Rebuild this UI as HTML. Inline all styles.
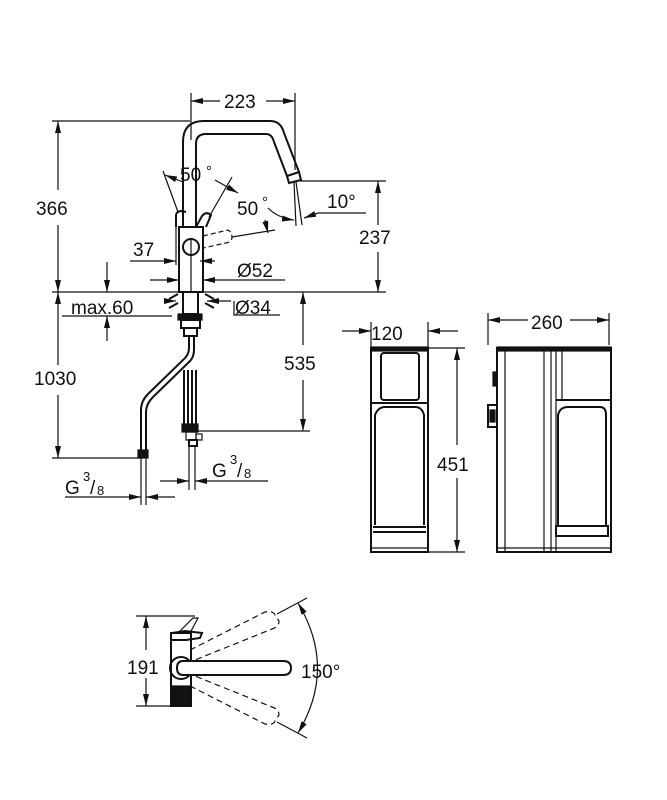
<!DOCTYPE html>
<html><head><meta charset="utf-8"><style>
html,body{margin:0;padding:0;background:#fff;}
svg{display:block}
text{font-family:"Liberation Sans",sans-serif;fill:#111;}
</style></head><body>
<svg width="667" height="800" viewBox="0 0 667 800" xmlns="http://www.w3.org/2000/svg">
<defs>
<marker id="a" viewBox="0 0 12 6" refX="12" refY="3" markerWidth="12" markerHeight="6" orient="auto-start-reverse" markerUnits="userSpaceOnUse">
<path d="M0,0 L12,3 L0,6 z" fill="#111"/></marker>
</defs>
<g stroke="#111" stroke-width="1.2" fill="none">
<line x1="191" y1="93" x2="191" y2="140"/><line x1="295" y1="93" x2="295" y2="170"/>
<line x1="191" y1="101" x2="220" y2="101" marker-start="url(#a)"/><line x1="266" y1="101" x2="295" y2="101" marker-end="url(#a)"/>
<line x1="52" y1="121" x2="190" y2="121"/>
<line x1="58" y1="121" x2="58" y2="190" marker-start="url(#a)"/><line x1="58" y1="225" x2="58" y2="292" marker-end="url(#a)"/>
<line x1="52" y1="292" x2="386" y2="292"/>
<line x1="300" y1="181" x2="386" y2="181"/>
<line x1="378" y1="181" x2="378" y2="225" marker-start="url(#a)"/><line x1="378" y1="252" x2="378" y2="292" marker-end="url(#a)"/>
<path d="M183,227 L183,142 Q183,121 204,121 L270,121 Q281,121 284,133 L299,172" stroke-width="2"/>
<path d="M196,227 L196,144 Q196,134 206,134 L266,134 Q272,134 274,142 L287,176" stroke-width="2"/>
<path d="M287,176 L299,172 L301,180 L289,183 z" stroke-width="2"/>
<line x1="294" y1="182" x2="296" y2="226"/><line x1="296" y1="182" x2="302" y2="225"/>
<path d="M268,208 Q278,218 294,220" marker-end="url(#a)"/>
<line x1="366" y1="213" x2="318" y2="213"/><line x1="318" y1="213" x2="304" y2="218" marker-end="url(#a)"/>
<rect x="179" y="227" width="24" height="65" stroke-width="2"/>
<circle cx="191" cy="247" r="8" stroke-width="2"/>
<line x1="191" y1="240" x2="191" y2="292"/>
<path d="M176,227 L176,216 Q176,211 182,211 L186,212" stroke-width="2"/>
<path d="M196,227 L202,216 Q206,211 211,215 L206,227" stroke-width="2"/>
<line x1="163" y1="171" x2="178" y2="212"/><line x1="232" y1="177" x2="209" y2="217"/>
<line x1="183" y1="182" x2="165" y2="175" marker-end="url(#a)"/>
<line x1="215" y1="180" x2="238" y2="193" marker-end="url(#a)"/>
<path d="M203,236 L228,230 Q232,232 232,238 Q231,242 226,243 L203,248" stroke-dasharray="5,3"/>
<line x1="232" y1="237" x2="275" y2="230"/>
<line x1="265" y1="220" x2="268" y2="233" marker-end="url(#a)"/>
<line x1="130" y1="261" x2="170" y2="261"/><line x1="170" y1="261" x2="176" y2="261" marker-end="url(#a)"/>
<line x1="176" y1="222" x2="176" y2="265"/>
<line x1="215" y1="261" x2="200" y2="261" marker-end="url(#a)"/>
<line x1="150" y1="280" x2="179" y2="280" marker-end="url(#a)"/>
<line x1="285" y1="280" x2="203" y2="280" marker-end="url(#a)"/>
<line x1="107" y1="262" x2="107" y2="292" marker-end="url(#a)"/>
<line x1="107" y1="341" x2="107" y2="316" marker-end="url(#a)"/>
<line x1="62" y1="316" x2="172" y2="316"/>
<rect x="183" y="292" width="15" height="22" stroke-width="2"/>
<line x1="165" y1="301" x2="176" y2="301" marker-end="url(#a)"/>
<path d="M169,299 L178,294 M169,308 L178,303 M205,294 L214,299 M205,303 L214,308" stroke-width="2"/>
<line x1="231" y1="301" x2="207" y2="301" marker-end="url(#a)"/>
<path d="M234,301 L234,315 L280,315"/>
<rect x="178" y="314" width="24" height="6" fill="#111"/>
<rect x="181" y="320" width="19" height="8" stroke-width="2"/>
<rect x="184" y="328" width="13" height="8" stroke-width="2"/>
<path d="M189,336 L189,348 Q189,355 183,360 L148,394 Q141,401 141,410 L141,452" stroke-width="2"/>
<path d="M194,336 L194,350 Q194,358 188,363 L153,397 Q146,404 146,412 L146,452" stroke-width="2"/>
<rect x="138" y="450" width="10" height="8" fill="#111"/>
<line x1="141" y1="458" x2="141" y2="505"/><line x1="146" y1="458" x2="146" y2="505"/>
<line x1="184" y1="370" x2="184" y2="425" stroke-width="2"/><line x1="188" y1="370" x2="188" y2="425" stroke-width="2"/>
<line x1="192" y1="370" x2="192" y2="425" stroke-width="2"/><line x1="196" y1="370" x2="196" y2="425" stroke-width="2"/>
<rect x="182" y="424" width="16" height="8" fill="#111"/>
<rect x="186" y="432" width="10" height="8"/><rect x="196" y="434" width="6" height="6"/>
<rect x="189" y="440" width="8" height="6" stroke-width="2"/>
<line x1="189" y1="446" x2="189" y2="490"/><line x1="195" y1="446" x2="195" y2="490"/>
<line x1="195" y1="431" x2="310" y2="431"/>
<line x1="303" y1="292" x2="303" y2="345" marker-start="url(#a)"/><line x1="303" y1="380" x2="303" y2="431" marker-end="url(#a)"/>
<line x1="52" y1="458" x2="140" y2="458"/>
<line x1="58" y1="292" x2="58" y2="365" marker-start="url(#a)"/><line x1="58" y1="395" x2="58" y2="458" marker-end="url(#a)"/>
<line x1="65" y1="497" x2="141" y2="497" marker-end="url(#a)"/><line x1="175" y1="497" x2="146" y2="497" marker-end="url(#a)"/>
<line x1="160" y1="481" x2="189" y2="481" marker-end="url(#a)"/><line x1="268" y1="481" x2="195" y2="481" marker-end="url(#a)"/>

<line x1="371" y1="322" x2="371" y2="348"/><line x1="428" y1="322" x2="428" y2="348"/>
<line x1="342" y1="331" x2="371" y2="331" marker-end="url(#a)"/><line x1="458" y1="331" x2="428" y2="331" marker-end="url(#a)"/>
<rect x="371" y="348" width="57" height="204" stroke-width="2"/>
<rect x="371" y="347" width="57" height="4" fill="#111"/>
<rect x="381" y="353" width="38" height="47" rx="3" stroke-width="2"/>
<line x1="371" y1="403" x2="428" y2="403" stroke-width="2"/>
<path d="M375,525 L375,415 Q378,407 385,407 L415,407 Q422,407 424,415 L424,525" stroke-width="2"/>
<line x1="373" y1="527" x2="426" y2="527" stroke-width="2"/>
<line x1="373" y1="532" x2="426" y2="532" stroke-width="2"/>
<line x1="371" y1="548" x2="428" y2="548"/>
<line x1="428" y1="348" x2="465" y2="348"/><line x1="428" y1="552" x2="465" y2="552"/>
<line x1="457" y1="348" x2="457" y2="445" marker-start="url(#a)"/><line x1="457" y1="478" x2="457" y2="552" marker-end="url(#a)"/>
<line x1="488" y1="313" x2="488" y2="345"/><line x1="609" y1="313" x2="609" y2="345"/>
<line x1="488" y1="320" x2="528" y2="320" marker-start="url(#a)"/><line x1="570" y1="320" x2="609" y2="320" marker-end="url(#a)"/>
<rect x="497" y="348" width="114" height="204" stroke-width="2"/>
<rect x="497" y="347" width="114" height="4" fill="#111"/>
<line x1="505" y1="351" x2="505" y2="552"/>
<line x1="544" y1="351" x2="544" y2="552"/><line x1="551" y1="351" x2="551" y2="552"/>
<line x1="556" y1="351" x2="556" y2="552"/>
<line x1="562" y1="351" x2="562" y2="400"/>
<line x1="556" y1="400" x2="611" y2="400" stroke-width="2"/>
<path d="M558,525 L558,415 Q560,407 568,407 L600,407 Q606,407 606,415 L606,525" stroke-width="2"/>
<rect x="556" y="526" width="52" height="10" stroke-width="2"/>
<line x1="497" y1="548" x2="611" y2="548"/>
<rect x="493" y="372" width="4" height="14" fill="#111"/>
<rect x="488" y="405" width="9" height="22" stroke-width="2"/><rect x="490" y="410" width="5" height="12" fill="#111"/>

<line x1="136" y1="616" x2="195" y2="616"/><line x1="136" y1="706" x2="178" y2="706"/>
<line x1="146" y1="616" x2="146" y2="650" marker-start="url(#a)"/><line x1="146" y1="678" x2="146" y2="706" marker-end="url(#a)"/>
<rect x="171" y="633" width="20" height="73" stroke-width="2"/>
<rect x="171" y="686" width="20" height="20" fill="#111"/>
<path d="M178,633 L193,618 L198,618 L190,633"/>
<path d="M172,633 L185,631 L202,633 L200,638 L186,640 L172,640" stroke-width="2"/>
<circle cx="181" cy="668" r="11" stroke-width="2"/>
<path d="M183,661 L283,661 Q291,661 291,668 Q291,675 283,675 L183,675 Q177,675 177,668 Q177,661 183,661 z" stroke-width="2" fill="#fff"/>
<path d="M190,650 L265,612 Q274,610 276,617 L279,621 Q279,627 272,629 L195,660" stroke-dasharray="6,4"/>
<path d="M190,686 L265,724 Q274,726 276,719 L279,715 Q279,709 272,707 L195,676" stroke-dasharray="6,4"/>
<line x1="277" y1="614" x2="307" y2="598"/><line x1="277" y1="722" x2="307" y2="738"/>
<path d="M298,603 Q337,668 298,733" marker-start="url(#a)" marker-end="url(#a)"/>
</g>
<g font-size="19">
<text x="224" y="108">223</text>
<text x="36" y="215">366</text>
<text x="180" y="181">50</text><text x="206" y="176" font-size="15">°</text>
<text x="237" y="215">50</text><text x="262" y="207" font-size="15">°</text>
<text x="327" y="208">10°</text>
<text x="359" y="244">237</text>
<text x="133" y="256">37</text>
<text x="237" y="277">Ø52</text>
<text x="71" y="314">max.60</text>
<text x="235" y="314">Ø34</text>
<text x="34" y="385">1030</text>
<text x="284" y="370">535</text>
<text x="65" y="494">G</text><text x="83" y="481" font-size="13">3</text><text x="90" y="494">/</text><text x="97" y="495" font-size="13">8</text>
<text x="212" y="477">G</text><text x="230" y="464" font-size="13">3</text><text x="237" y="477">/</text><text x="244" y="478" font-size="13">8</text>
<text x="371" y="340">120</text>
<text x="437" y="471">451</text>
<text x="531" y="329">260</text>
<text x="127" y="674">191</text>
<text x="301" y="678">150°</text>
</g>
</svg>
</body></html>
